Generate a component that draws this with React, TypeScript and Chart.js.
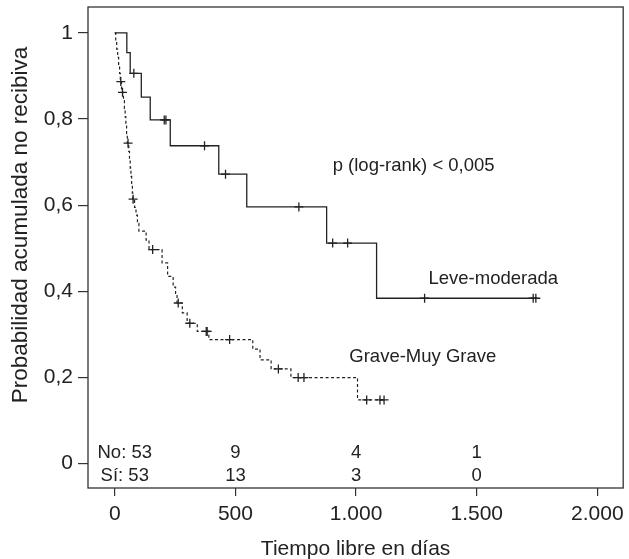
import React, { useEffect, useRef } from "react";
import { Chart, registerables } from "chart.js";

Chart.register(...registerables);

// ---- data ----
const xTicks = [0, 500, 1000, 1500, 2000];
const yTicks = [0, 0.2, 0.4, 0.6, 0.8, 1];

// Leve-moderada (solid)
const leveTimes = [0, 50, 64, 110, 147, 230, 431, 547, 878, 1085];
const leveSurv = [1.0, 0.954, 0.906, 0.851, 0.798, 0.738, 0.672, 0.596, 0.512, 0.384];
const leveCensor = [79, 205, 212, 372, 459, 763, 903, 965, 1284, 1734, 1745];
const leveEnd = 1745;

// Grave-Muy Grave (dashed)
const graveTimes = [
  0, 4, 8, 12, 16, 20, 23, 28, 36, 40, 43, 46, 49, 52, 58, 61, 64, 67, 70, 73, 75,
  82, 88, 94, 100, 130, 142, 196, 219, 242, 252, 258, 280, 300, 342, 390, 572, 602,
  648, 730, 1006,
];
const graveSurv = [
  1.0, 0.981, 0.962, 0.943, 0.925, 0.906, 0.887, 0.862, 0.843, 0.824, 0.805, 0.786,
  0.766, 0.744, 0.725, 0.706, 0.686, 0.667, 0.647, 0.628, 0.614, 0.595, 0.577, 0.558,
  0.54, 0.519, 0.497, 0.466, 0.435, 0.41, 0.39, 0.373, 0.35, 0.326, 0.307, 0.288,
  0.266, 0.241, 0.22, 0.2, 0.148,
];
const graveCensor = [25, 32, 55, 76, 157, 263, 311, 379, 383, 476, 678, 760, 784, 1044, 1099, 1116];
const graveEnd = 1116;

// numbers at risk
const riskTimes = [0, 500, 1000, 1500];
const riskNo = [53, 9, 4, 1];
const riskSi = [53, 13, 3, 0];

const FONT = '"Liberation Sans", Arial, Helvetica, sans-serif';
const INK = "#222";

function stepPoints(times: number[], surv: number[], end: number) {
  const pts = times.map((t, i) => ({ x: t, y: surv[i] }));
  pts.push({ x: end, y: surv[surv.length - 1] });
  return pts;
}
function survAt(times: number[], surv: number[], t: number) {
  let s = surv[0];
  for (let i = 0; i < times.length; i++) if (times[i] <= t) s = surv[i];
  return s;
}
function fmtThousands(v: number) {
  return String(v).replace(/\B(?=(\d{3})+(?!\d))/g, ".");
}

const overlay = {
  id: "overlay",
  afterDraw(chart: any) {
    const { ctx, chartArea: a, scales } = chart;
    const xs = scales.x;
    const ys = scales.y;
    ctx.save();
    ctx.strokeStyle = "#333";
    ctx.lineWidth = 1.3;
    ctx.strokeRect(a.left, a.top, a.right - a.left, a.bottom - a.top);

    ctx.fillStyle = INK;
    ctx.textBaseline = "middle";
    ctx.font = `18.5px ${FONT}`;
    ctx.textAlign = "center";
    riskTimes.forEach((t, i) => {
      const x = xs.getPixelForValue(t) + (i === 0 ? 10 : 0);
      ctx.fillText(i === 0 ? `No: ${riskNo[i]}` : String(riskNo[i]), x, ys.getPixelForValue(0.026));
      ctx.fillText(i === 0 ? `Sí: ${riskSi[i]}` : String(riskSi[i]), x, ys.getPixelForValue(-0.028));
    });

    ctx.textAlign = "left";
    ctx.fillText("p (log-rank) < 0,005", xs.getPixelForValue(903), ys.getPixelForValue(0.691));
    ctx.fillText("Leve-moderada", xs.getPixelForValue(1300), ys.getPixelForValue(0.4285));
    ctx.fillText("Grave-Muy Grave", xs.getPixelForValue(972), ys.getPixelForValue(0.2476));

    ctx.font = `21px ${FONT}`;
    ctx.textAlign = "center";
    ctx.fillText("Tiempo libre en días", (a.left + a.right) / 2, 549);
    ctx.font = `22.5px ${FONT}`;
    ctx.translate(21, 225);
    ctx.rotate(-Math.PI / 2);
    ctx.fillText("Probabilidad acumulada no recibiva", 0, 0);
    ctx.restore();
  },
};

export default function App() {
  const ref = useRef<HTMLCanvasElement | null>(null);
  useEffect(() => {
    if (!ref.current) return;
    const chart = new Chart(ref.current, {
      type: "line",
      data: {
        datasets: [
          {
            label: "Leve-moderada",
            data: stepPoints(leveTimes, leveSurv, leveEnd),
            stepped: "before",
            borderColor: INK,
            borderWidth: 1.3,
            pointRadius: 0,
            fill: false,
          },
          {
            label: "Grave-Muy Grave",
            data: stepPoints(graveTimes, graveSurv, graveEnd),
            stepped: "before",
            borderColor: INK,
            borderWidth: 1.2,
            borderDash: [3, 2.5],
            pointRadius: 0,
            fill: false,
          },
          {
            label: "cens1",
            data: leveCensor.map((t) => ({ x: t, y: survAt(leveTimes, leveSurv, t) })),
            showLine: false,
            pointStyle: "cross",
            pointRadius: 4.5,
            pointBorderWidth: 1.3,
            pointBorderColor: INK,
            borderColor: INK,
          },
          {
            label: "cens2",
            data: graveCensor.map((t) => ({ x: t, y: survAt(graveTimes, graveSurv, t) })),
            showLine: false,
            pointStyle: "cross",
            pointRadius: 4.5,
            pointBorderWidth: 1.3,
            pointBorderColor: INK,
            borderColor: INK,
          },
        ],
      },
      options: {
        animation: false,
        responsive: false,
        devicePixelRatio: 1,
        layout: { padding: { top: 7, right: 1, left: 0, bottom: 0 } },
        plugins: { legend: { display: false }, tooltip: { enabled: false } },
        scales: {
          x: {
            type: "linear",
            min: -110.9,
            max: 2107,
            afterBuildTicks: (s: any) => {
              s.ticks = xTicks.map((v) => ({ value: v }));
            },
            afterFit: (s: any) => {
              s.height = 71;
              s.paddingLeft = 0;
              s.paddingRight = 0;
              s.paddingTop = 0;
              s.paddingBottom = 0;
            },
            ticks: {
              callback: (v: any) => fmtThousands(Number(v)),
              font: { family: FONT, size: 21 },
              color: INK,
              padding: 6,
              maxRotation: 0,
              autoSkip: false,
            },
            grid: { drawOnChartArea: false, drawTicks: true, tickLength: 8, color: "#333", lineWidth: 1.2 },
            border: { display: false },
          },
          y: {
            type: "linear",
            min: -0.0564,
            max: 1.06,
            afterBuildTicks: (s: any) => {
              s.ticks = yTicks.map((v) => ({ value: v }));
            },
            afterFit: (s: any) => {
              s.width = 88;
              s.paddingLeft = 0;
              s.paddingRight = 0;
              s.paddingTop = 0;
              s.paddingBottom = 0;
            },
            ticks: {
              callback: (v: any) => {
                const n = Number(v);
                if (Math.abs(n) < 1e-9) return "0";
                if (Math.abs(n - 1) < 1e-9) return "1";
                return n.toFixed(1).replace(".", ",");
              },
              font: { family: FONT, size: 21 },
              color: INK,
              padding: 5,
              autoSkip: false,
            },
            grid: { drawOnChartArea: false, drawTicks: true, tickLength: 10, color: "#333", lineWidth: 1.2 },
            border: { display: false },
          },
        },
      },
      plugins: [overlay],
    } as any);
    return () => chart.destroy();
  }, []);
  return (
    <div style={{ position: "absolute", left: 0, top: 0, width: 629, height: 559, background: "#fff" }}>
      <canvas ref={ref} width={629} height={559} style={{ display: "block" }} />
    </div>
  );
}
